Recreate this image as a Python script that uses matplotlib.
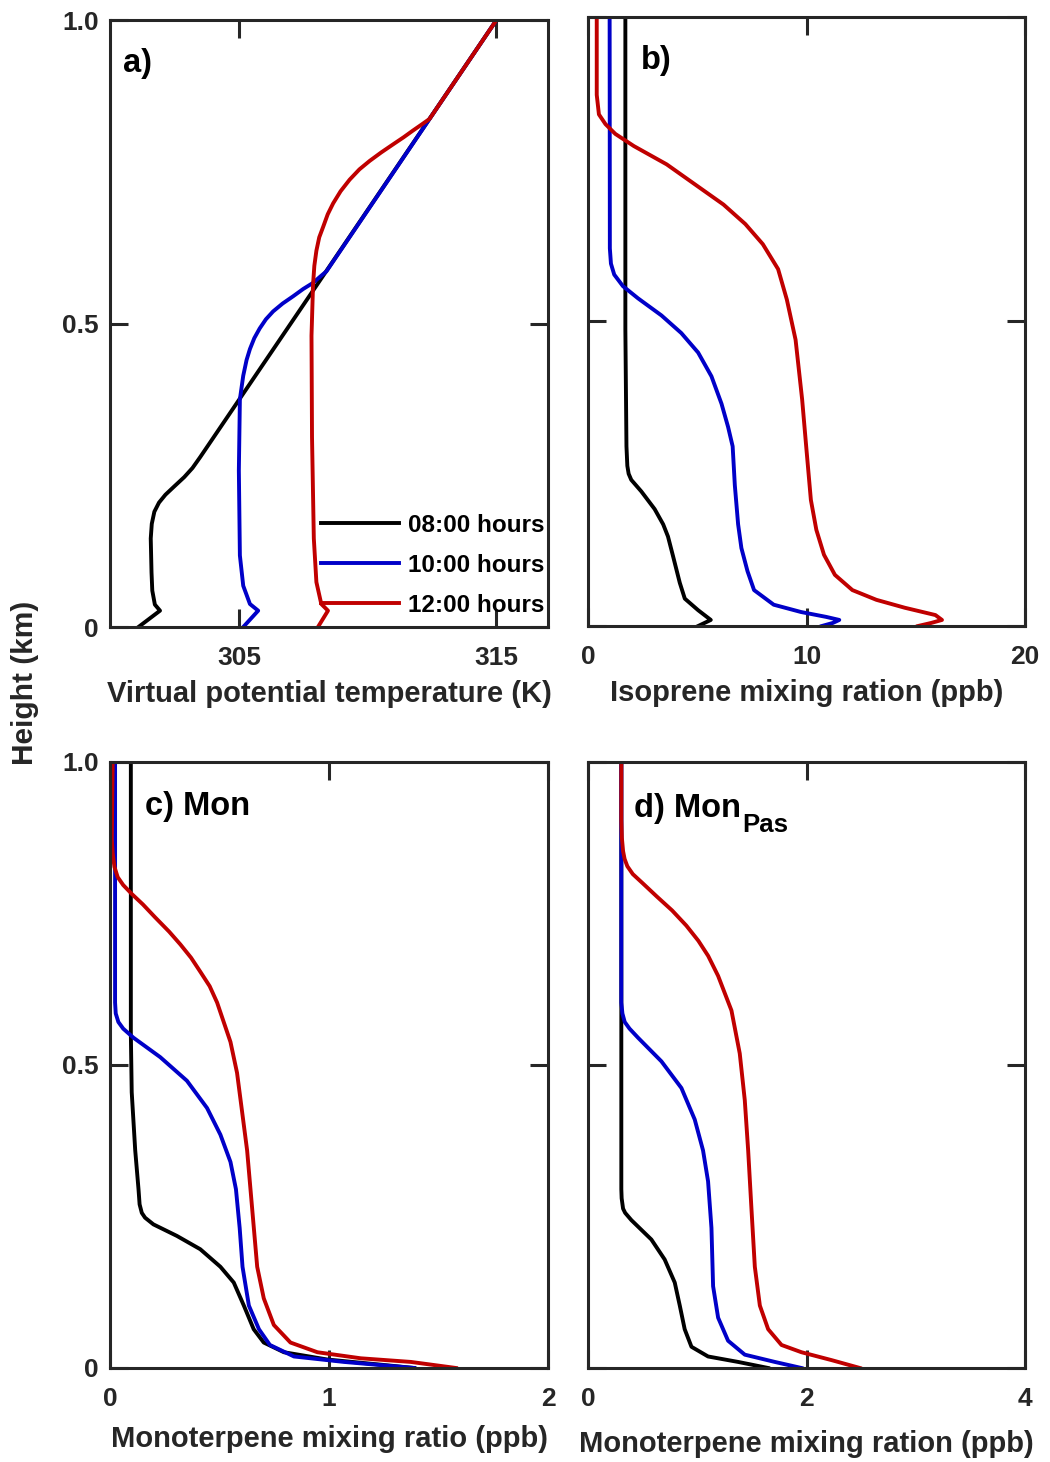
import matplotlib
matplotlib.use('Agg')
import matplotlib.pyplot as plt

plt.rcParams['font.family'] = ['Liberation Sans', 'DejaVu Sans']
plt.rcParams['font.weight'] = 'bold'

#colours of the three profiles (08, 10, 12 hours)
c08 = 'black'
c10 = '#0000C8'
c12 = '#C00000'
labels = ['08:00 hours', '10:00 hours', '12:00 hours']

#a) virtual potential temperature (K) vs height (km)
a_z_08 = [0.0, 0.027, 0.037, 0.06, 0.09, 0.146, 0.17, 0.19, 0.205, 0.218, 0.232, 0.247, 0.262, 0.28, 1.0]
a_x_08 = [301.10, 301.94, 301.74, 301.64, 301.61, 301.58, 301.62, 301.72, 301.9, 302.15, 302.5, 302.88,
          303.2, 303.5, 315.0]
a_z_10 = [0.0, 0.027, 0.038, 0.068, 0.118, 0.258, 0.375, 0.414, 0.44, 0.458, 0.476, 0.492, 0.507, 0.52,
          0.533, 0.545, 0.557, 0.567, 0.577, 0.586, 1.0]
a_x_10 = [305.17, 305.75, 305.43, 305.17, 305.04, 305.0, 305.04, 305.17, 305.3, 305.43, 305.6, 305.81,
          306.05, 306.33, 306.7, 307.11, 307.5, 307.88, 308.15, 308.4, 315.0]
a_z_12 = [0.0, 0.027, 0.038, 0.074, 0.146, 0.313, 0.48, 0.564, 0.595, 0.62, 0.642, 0.659, 0.68, 0.698,
          0.718, 0.737, 0.754, 0.768, 0.782, 0.795, 0.807, 0.818, 0.828, 0.837, 1.0]
a_x_12 = [308.07, 308.46, 308.2, 308.01, 307.91, 307.84, 307.82, 307.88, 307.93, 308.01, 308.12, 308.27,
          308.45, 308.66, 308.95, 309.3, 309.68, 310.08, 310.53, 310.98, 311.4, 311.76, 312.1, 312.4, 315.0]

#b) isoprene (ppb)
b_z_08 = [0.0, 0.010, 0.026, 0.045, 0.071, 0.115, 0.147, 0.167, 0.192, 0.221, 0.240, 0.25, 0.263, 0.295,
          0.487, 1.0]
b_x_08 = [5.04, 5.62, 5.04, 4.43, 4.20, 3.89, 3.66, 3.44, 3.05, 2.44, 1.98, 1.86, 1.80, 1.76, 1.71, 1.71]
b_z_10 = [0.0, 0.005, 0.010, 0.015, 0.023, 0.035, 0.059, 0.09, 0.128, 0.167, 0.231, 0.295, 0.327, 0.365,
          0.41, 0.449, 0.481, 0.51, 0.538, 0.558, 0.577, 0.595, 0.62, 1.0]
b_x_10 = [10.7, 11.2, 11.5, 10.9, 9.75, 8.5, 7.6, 7.3, 7.02, 6.87, 6.72, 6.62, 6.41, 6.11,
          5.65, 5.04, 4.27, 3.36, 2.29, 1.6, 1.2, 1.05, 1.0, 0.99]
b_z_12 = [0.0, 0.005, 0.010, 0.018, 0.030, 0.043, 0.059, 0.084, 0.117, 0.158, 0.207, 0.289, 0.372, 0.47,
          0.536, 0.586, 0.627, 0.66, 0.692, 0.725, 0.758, 0.788, 0.808, 0.824, 0.840, 0.872, 1.0]
b_x_12 = [15.1, 15.7, 16.2, 15.9, 14.5, 13.2, 12.1, 11.3, 10.8, 10.45, 10.2, 10.0, 9.8, 9.5,
          9.1, 8.7, 8.0, 7.2, 6.2, 4.9, 3.6, 2.1, 1.25, 0.8, 0.5, 0.4, 0.4]

#c) monoterpene, Mon (ppb)
c_z_08 = [0.0, 0.006, 0.014, 0.026, 0.042, 0.064, 0.103, 0.141, 0.167, 0.196, 0.218, 0.237, 0.248, 0.256,
          0.27, 0.295, 0.359, 0.455, 0.551, 1.0]
c_x_08 = [1.389, 1.221, 0.992, 0.794, 0.702, 0.656, 0.611, 0.565, 0.504, 0.412, 0.305, 0.198, 0.16, 0.145,
          0.135, 0.130, 0.115, 0.099, 0.095, 0.095]
c_z_10 = [0.0, 0.010, 0.019, 0.038, 0.064, 0.103, 0.167, 0.231, 0.295, 0.340, 0.385, 0.429, 0.474, 0.513,
          0.545, 0.56, 0.571, 0.585, 0.603, 1.0]
c_x_10 = [1.389, 1.069, 0.840, 0.730, 0.680, 0.634, 0.605, 0.592, 0.575, 0.550, 0.504, 0.443, 0.351, 0.229,
          0.107, 0.06, 0.038, 0.026, 0.023, 0.023]
c_z_12 = [0.0, 0.010, 0.016, 0.026, 0.042, 0.071, 0.115, 0.167, 0.263, 0.359, 0.423, 0.487, 0.538, 0.603,
          0.63, 0.654, 0.677, 0.699, 0.72, 0.744, 0.765, 0.782, 0.797, 0.81, 0.827, 0.85, 0.872, 1.0]
c_x_12 = [1.580, 1.374, 1.145, 0.947, 0.824, 0.748, 0.702, 0.672, 0.649, 0.626, 0.603, 0.580, 0.550, 0.489,
          0.455, 0.412, 0.37, 0.321, 0.27, 0.205, 0.15, 0.10, 0.06, 0.035, 0.02, 0.012, 0.008, 0.012]

#d) monoterpene, Mon_Pas (ppb)
d_z_08 = [0.0, 0.010, 0.019, 0.035, 0.064, 0.103, 0.141, 0.179, 0.212, 0.244, 0.256, 0.263, 0.28, 0.295, 1.0]
d_x_08 = [1.649, 1.374, 1.099, 0.947, 0.885, 0.840, 0.794, 0.702, 0.580, 0.397, 0.34, 0.321, 0.308, 0.305,
          0.305]
d_z_10 = [0.0, 0.010, 0.022, 0.045, 0.083, 0.135, 0.231, 0.308, 0.359, 0.410, 0.462, 0.506, 0.545, 0.56,
          0.571, 0.585, 0.603, 1.0]
d_x_10 = [1.954, 1.710, 1.435, 1.282, 1.191, 1.145, 1.130, 1.099, 1.053, 0.977, 0.855, 0.672, 0.458, 0.38,
          0.336, 0.315, 0.305, 0.305]
d_z_12 = [0.0, 0.013, 0.026, 0.038, 0.064, 0.103, 0.167, 0.263, 0.359, 0.442, 0.519, 0.590, 0.647, 0.68,
          0.705, 0.73, 0.755, 0.778, 0.8, 0.815, 0.828, 0.84, 0.853, 0.875, 0.904, 1.0]
d_x_12 = [2.489, 2.229, 1.954, 1.771, 1.649, 1.573, 1.527, 1.496, 1.466, 1.435, 1.389, 1.313, 1.191, 1.10,
          1.01, 0.9, 0.77, 0.63, 0.5, 0.41, 0.36, 0.335, 0.321, 0.31, 0.305, 0.305]

yticks = [0, 0.5, 1.0]
ytick_labels = ['0', '0.5', '1.0']

fig = plt.figure(figsize=(10.5, 14.62), dpi=100)

axa = fig.add_axes([0.1048, 0.5711, 0.4171, 0.4152])
axb = fig.add_axes([0.5600, 0.5718, 0.4162, 0.4166])
axc = fig.add_axes([0.1048, 0.0643, 0.4171, 0.4145])
axd = fig.add_axes([0.5600, 0.0643, 0.4162, 0.4145])

lw = 2.8
gray = '#262626'


def style(ax, xlim, xticks, xlabel, show_ylabels, lpad=7):
    ax.set_xlim(xlim)
    ax.set_ylim(0, 1)
    ax.set_xticks(xticks)
    ax.set_xticklabels([str(t) for t in xticks])
    ax.set_yticks(yticks)
    if show_ylabels:
        ax.set_yticklabels(ytick_labels)
    else:
        ax.set_yticklabels([])
    for s in ax.spines.values():
        s.set_linewidth(2.2)
        s.set_color(gray)
    ax.tick_params(direction='in', length=13, width=2.2, color=gray, labelcolor=gray,
                   labelsize=19, top=True, right=True)
    ax.tick_params(axis='x', pad=13.5)
    ax.tick_params(axis='y', pad=8)
    ax.set_xlabel(xlabel, fontsize=21, fontweight='bold', color=gray, labelpad=lpad)


#panel a
axa.plot(a_x_08, a_z_08, color=c08, lw=lw, label=labels[0])
axa.plot(a_x_10, a_z_10, color=c10, lw=lw, label=labels[1])
axa.plot(a_x_12, a_z_12, color=c12, lw=lw, label=labels[2])
style(axa, (300, 317), [305, 315], 'Virtual potential temperature (K)', True)
axa.text(0.03, 0.914, 'a)', transform=axa.transAxes, fontsize=23.5, fontweight='bold')
axa.legend(loc='lower right', bbox_to_anchor=(0.992, 0.017), frameon=False, fontsize=17.5,
           handlelength=3.2, handletextpad=0.37, labelspacing=0.7, borderaxespad=0, borderpad=0)

#panel b
axb.plot(b_x_08, b_z_08, color=c08, lw=lw)
axb.plot(b_x_10, b_z_10, color=c10, lw=lw)
axb.plot(b_x_12, b_z_12, color=c12, lw=lw)
style(axb, (0, 20), [0, 10, 20], 'Isoprene mixing ration (ppb)', False)
axb.text(0.121, 0.914, 'b)', transform=axb.transAxes, fontsize=23.5, fontweight='bold')

#panel c
axc.plot(c_x_08, c_z_08, color=c08, lw=lw)
axc.plot(c_x_10, c_z_10, color=c10, lw=lw)
axc.plot(c_x_12, c_z_12, color=c12, lw=lw)
style(axc, (0, 2), [0, 1, 2], 'Monoterpene mixing ratio (ppb)', True, lpad=10)
axc.text(0.08, 0.913, 'c) Mon', transform=axc.transAxes, fontsize=23.5, fontweight='bold')

#panel d
axd.plot(d_x_08, d_z_08, color=c08, lw=lw)
axd.plot(d_x_10, d_z_10, color=c10, lw=lw)
axd.plot(d_x_12, d_z_12, color=c12, lw=lw)
style(axd, (0, 4), [0, 2, 4], 'Monoterpene mixing ration (ppb)', False, lpad=14)
axd.text(0.105, 0.91, 'd) Mon', transform=axd.transAxes, fontsize=23.5, fontweight='bold')
axd.text(0.352, 0.884, 'Pas', transform=axd.transAxes, fontsize=18.5, fontweight='bold')

fig.text(0.024, 0.533, 'Height (km)', rotation=90, ha='center', va='center',
         fontsize=21.5, fontweight='bold', color=gray)

fig.savefig('out.png', dpi=100)
